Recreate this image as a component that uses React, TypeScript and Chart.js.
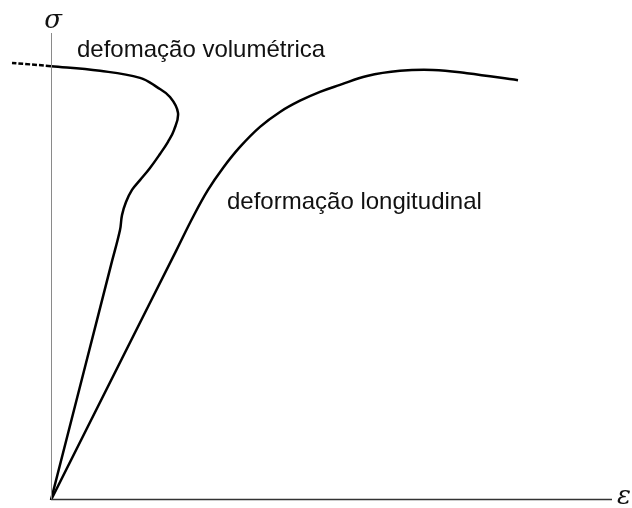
import React, { useEffect, useRef } from "react";
import { Chart, registerables } from "chart.js";

Chart.register(...registerables);

// longitudinal strain curve (ε, σ)
const longX = [0, 0.71, 1.25, 1.42, 1.57, 1.72, 1.89, 2.09, 2.29, 2.49, 2.69, 2.89, 3.16, 3.49, 3.82, 4.16, 4.67];
const longY = [0, 0.303, 0.533, 0.606, 0.664, 0.711, 0.756, 0.799, 0.831, 0.855, 0.874, 0.889, 0.908, 0.919, 0.921, 0.914, 0.899];

// volumetric strain curve (ε, σ)
const volX = [0, 0.345, 0.6, 0.69, 0.71, 0.75, 0.81, 0.89, 0.99, 1.09, 1.17, 1.23, 1.27, 1.19, 1.06, 0.89, 0.49, 0, -0.39];
const volY = [0, 0.289, 0.503, 0.578, 0.61, 0.638, 0.664, 0.685, 0.711, 0.741, 0.767, 0.792, 0.829, 0.863, 0.884, 0.904, 0.919, 0.929, 0.936];

const labelLong = "deformação longitudinal";
const labelVol = "defomação volumétrica";
const axisY = "σ";
const axisX = "ε";

const toPoints = (xs: number[], ys: number[]) => xs.map((x, i) => ({ x, y: ys[i] }));

const annotate = {
  id: "annotate",
  afterDraw(chart: any) {
    const { ctx, scales } = chart;
    const xs = scales.x;
    const ys = scales.y;
    const ox = xs.getPixelForValue(0);
    const oy = ys.getPixelForValue(0);
    ctx.save();
    // y axis
    ctx.strokeStyle = "#8a8a8a";
    ctx.lineWidth = 1;
    ctx.beginPath();
    ctx.moveTo(ox + 0.5, ys.getPixelForValue(1));
    ctx.lineTo(ox + 0.5, oy);
    ctx.stroke();
    // x axis
    ctx.strokeStyle = "#333";
    ctx.lineWidth = 1.5;
    ctx.beginPath();
    ctx.moveTo(ox, oy - 0.5);
    ctx.lineTo(xs.getPixelForValue(5.61), oy - 0.5);
    ctx.stroke();

    ctx.fillStyle = "#111";
    ctx.textBaseline = "alphabetic";
    ctx.textAlign = "left";
    ctx.font = "24px 'Liberation Sans', Arial, sans-serif";
    ctx.fillText(labelVol, xs.getPixelForValue(0.26), ys.getPixelForValue(0.948));
    ctx.fillText(labelLong, xs.getPixelForValue(1.76), ys.getPixelForValue(0.623));

    ctx.font = "italic 26px 'DejaVu Serif', serif";
    ctx.textAlign = "center";
    ctx.fillText(axisY, ox + 2, ys.getPixelForValue(1.01));
    ctx.fillText(axisX, xs.getPixelForValue(5.73), oy + 4);
    ctx.restore();
  },
};

export default function App() {
  const ref = useRef<HTMLCanvasElement>(null);
  useEffect(() => {
    if (!ref.current) return;
    const chart = new Chart(ref.current, {
      type: "scatter",
      data: {
        datasets: [
          {
            data: toPoints(longX, longY),
            showLine: true,
            borderColor: "#000",
            borderWidth: 2.5,
            pointRadius: 0,
            tension: 0.4,
          },
          {
            data: toPoints(volX, volY),
            showLine: true,
            borderColor: "#000",
            borderWidth: 2.5,
            pointRadius: 0,
            tension: 0.4,
            segment: {
              borderDash: (c: any) => (c.p1.parsed.x < 0 ? [5, 2] : undefined),
            },
          },
        ],
      },
      options: {
        animation: false,
        responsive: false,
        layout: { padding: { left: 11, right: 20, top: 33, bottom: 8 } },
        plugins: { legend: { display: false }, tooltip: { enabled: false } },
        scales: {
          x: { type: "linear", min: -0.4, max: 5.61, display: false },
          y: { type: "linear", min: 0, max: 1, display: false },
        },
      },
      plugins: [annotate],
    });
    return () => chart.destroy();
  }, []);
  return (
    <div style={{ position: "absolute", left: 0, top: 0, width: 632, height: 508, background: "#fff" }}>
      <canvas ref={ref} width={632} height={508} />
    </div>
  );
}
